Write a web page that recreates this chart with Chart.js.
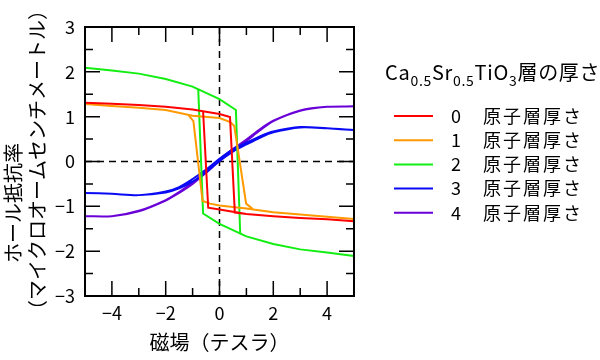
<!DOCTYPE html>
<html>
<head>
<meta charset="utf-8">
<script src="https://cdn.jsdelivr.net/npm/chart.js@4.4.1/dist/chart.umd.min.js"></script>
<style>
  html, body { margin: 0; padding: 0; background: #fff; }
  #wrap { width: 600px; height: 360px; }
</style>
</head>
<body>
<div id="wrap"><canvas id="hallChart" width="600" height="360"></canvas></div>
<script>
const layers = ['0', '1', '2', '3', '4'];
const layerColors = ['#ff0000', '#ff9900', '#12ee12', '#0a0af5', '#6a00d8'];

// field sweep -5 T -> +5 T -> -5 T, Hall resistivity in µΩcm
const field0 = [-5, -4, -3, -2, -1, 0, 0.39, 0.57, 1, 2, 3, 4, 5,
                5, 4, 3, 2, 1, 0, -0.42, -0.61, -1, -2, -3, -4, -5];
const rho0 = [1.31, 1.29, 1.26, 1.22, 1.16, 1.06, 0.99, -1.14, -1.17, -1.22, -1.26, -1.29, -1.33,
              -1.33, -1.29, -1.26, -1.22, -1.17, -1.07, -1.03, 1.12, 1.16, 1.22, 1.26, 1.29, 1.31];

const field1 = [-5, -4, -3, -2, -1, 0, 0.4, 0.55, 0.99, 1.26, 2, 3, 4, 5,
                5, 4, 3, 2, 1, 0, -0.35, -0.63, -0.97, -1.16, -2, -3, -4, -5];
const rho1 = [1.28, 1.24, 1.2, 1.15, 1.02, 0.97, 0.88, 0.79, -0.94, -1.07, -1.13, -1.18, -1.23, -1.28,
              -1.28, -1.23, -1.18, -1.13, -1.05, -0.98, -0.94, -0.88, 0.9, 1.04, 1.15, 1.2, 1.24, 1.28];

const field2 = [-5, -4, -3, -2, -1, 0, 0.61, 0.77, 1, 2, 3, 4, 5,
                5, 4, 3, 2, 1, 0, -0.61, -0.79, -1, -2, -3, -4, -5];
const rho2 = [2.09, 2.03, 1.96, 1.84, 1.67, 1.39, 1.15, -1.61, -1.67, -1.84, -1.96, -2.03, -2.11,
              -2.11, -2.03, -1.96, -1.84, -1.67, -1.39, -1.16, 1.61, 1.67, 1.84, 1.96, 2.03, 2.09];

const field3 = [-5, -4, -3, -2, -1.5, -1, -0.5, 0, 0.5, 1, 1.5, 2, 3, 4, 5,
                5, 4, 3, 2, 1.5, 1, 0.5, 0, -0.5, -1, -1.5, -2, -3, -4, -5];
const rho3 = [-0.7, -0.72, -0.75, -0.69, -0.6, -0.45, -0.24, 0.01, 0.22, 0.38, 0.53, 0.65, 0.76, 0.74, 0.7,
              0.7, 0.74, 0.77, 0.67, 0.56, 0.42, 0.27, 0.06, -0.18, -0.39, -0.57, -0.67, -0.75, -0.72, -0.7];

const field4 = [-5, -4, -3, -2, -1.5, -1, -0.5, 0, 0.5, 1, 1.5, 2, 3, 4, 5,
                5, 4, 3, 2, 1.5, 1, 0.5, 0, -0.5, -1, -1.5, -2, -3, -4, -5];
const rho4 = [-1.22, -1.22, -1.11, -0.87, -0.7, -0.5, -0.25, 0.01, 0.24, 0.46, 0.69, 0.9, 1.13, 1.22, 1.23,
              1.23, 1.22, 1.14, 0.91, 0.72, 0.49, 0.28, 0.05, -0.21, -0.47, -0.68, -0.86, -1.1, -1.22, -1.22];

const fields = [field0, field1, field2, field3, field4];
const rhos = [rho0, rho1, rho2, rho3, rho4];
const smooth = [0, 0, 0, 0.3, 0.3];

const xLabelTicks = [-4, -2, 0, 2, 4];
const xMinorTicks = [-3, -1, 1, 3];
const yLabelTicks = [-3, -2, -1, 0, 1, 2, 3];
const yMinorTicks = [-2.5, -1.5, -0.5, 0.5, 1.5, 2.5];

const jp = '"Noto Sans CJK JP", "Noto Sans", sans-serif';
const fmt = v => (v < 0 ? '\u2212' + Math.abs(v) : String(v));

const frameAndLegend = {
  id: 'frameAndLegend',
  beforeDatasetsDraw(chart) {
    const { ctx, chartArea: a, scales: { x, y } } = chart;
    const x0 = x.getPixelForValue(0);
    const y0 = y.getPixelForValue(0);
    ctx.save();
    ctx.strokeStyle = '#000';
    ctx.lineWidth = 1.5;
    ctx.setLineDash([7, 5]);
    ctx.beginPath();
    ctx.moveTo(x0, a.top);
    ctx.lineTo(x0, a.bottom);
    ctx.moveTo(a.left, y0);
    ctx.lineTo(a.right, y0);
    ctx.stroke();
    ctx.restore();
  },
  afterDraw(chart) {
    const { ctx, chartArea: a, scales: { x, y } } = chart;
    ctx.save();
    ctx.strokeStyle = '#000';
    ctx.lineWidth = 2;
    ctx.strokeRect(a.left, a.top, a.right - a.left, a.bottom - a.top);

    // inward ticks on all four sides
    ctx.lineWidth = 1.5;
    ctx.beginPath();
    const xt = (vals, len) => vals.forEach(v => {
      const px = x.getPixelForValue(v);
      ctx.moveTo(px, a.bottom); ctx.lineTo(px, a.bottom - len);
      ctx.moveTo(px, a.top); ctx.lineTo(px, a.top + len);
    });
    const yt = (vals, len) => vals.forEach(v => {
      const py = y.getPixelForValue(v);
      ctx.moveTo(a.left, py); ctx.lineTo(a.left + len, py);
      ctx.moveTo(a.right, py); ctx.lineTo(a.right - len, py);
    });
    xt(xLabelTicks, 15); xt(xMinorTicks, 8);
    yt(yLabelTicks, 15); yt(yMinorTicks, 8);
    ctx.stroke();

    // y axis title, two lines
    ctx.fillStyle = '#000';
    ctx.font = '20px ' + jp;
    ctx.textAlign = 'center';
    ctx.textBaseline = 'middle';
    ctx.save();
    ctx.translate(13, 203);
    ctx.rotate(-Math.PI / 2);
    ctx.fillText('ホール抵抗率', 0, 0);
    ctx.restore();
    ctx.save();
    ctx.translate(37, 160);
    ctx.rotate(-Math.PI / 2);
    ctx.fillText('（マイクロオームセンチメートル）', 0, 0);
    ctx.restore();

    // legend title with subscripts
    const parts = [['Ca', 0], ['0.5', 1], ['Sr', 0], ['0.5', 1], ['TiO', 0], ['3', 1], ['層の厚さ', 0]];
    let tx = 385;
    ctx.textAlign = 'left';
    ctx.textBaseline = 'alphabetic';
    ctx.letterSpacing = '0.7px';
    parts.forEach(([t, sub]) => {
      ctx.font = (sub ? '14px ' : '20px ') + jp;
      ctx.fillText(t, tx, sub ? 86 : 80);
      tx += ctx.measureText(t).width;
    });
    ctx.letterSpacing = '0px';

    // legend entries
    layers.forEach((name, i) => {
      const ly = 116 + i * 24.2;
      ctx.strokeStyle = layerColors[i];
      ctx.lineWidth = 2;
      ctx.beginPath();
      ctx.moveTo(394, ly);
      ctx.lineTo(433, ly);
      ctx.stroke();
      ctx.font = '18px ' + jp;
      ctx.textBaseline = 'middle';
      ctx.textAlign = 'center';
      ctx.fillText(name, 456, ly);
      ctx.textAlign = 'left';
      ctx.letterSpacing = '2px';
      ctx.fillText('原子層厚さ', 483, ly);
      ctx.letterSpacing = '0px';
    });
    ctx.restore();
  }
};

new Chart(document.getElementById('hallChart'), {
  type: 'scatter',
  data: {
    datasets: fields.map((f, i) => ({
      label: layers[i],
      data: f.map((v, j) => ({ x: v, y: rhos[i][j] })),
      showLine: true,
      borderColor: layerColors[i],
      borderWidth: 2,
      pointRadius: 0,
      tension: smooth[i],
      fill: false,
    })),
  },
  options: {
    responsive: false,
    animation: false,
    devicePixelRatio: 1,
    layout: { padding: { top: 27, right: 246, left: 0, bottom: 0 } },
    plugins: { legend: { display: false }, tooltip: { enabled: false } },
    scales: {
      x: {
        type: 'linear',
        min: -5,
        max: 5,
        afterBuildTicks: s => { s.ticks = xLabelTicks.map(v => ({ value: v })); },
        afterFit: s => { s.height = 64; },
        grid: { display: false, drawTicks: false },
        border: { display: false },
        ticks: { padding: 6, color: '#000', font: { family: jp, size: 18 }, callback: fmt, maxRotation: 0 },
        title: { display: true, text: '磁場（テスラ）', color: '#000', font: { family: jp, size: 20 }, padding: { top: 0, bottom: 6 } },
      },
      y: {
        type: 'linear',
        min: -3,
        max: 3,
        afterBuildTicks: s => { s.ticks = yLabelTicks.map(v => ({ value: v })); },
        afterFit: s => { s.width = 85; },
        grid: { display: false, drawTicks: false },
        border: { display: false },
        ticks: { padding: 10, color: '#000', font: { family: jp, size: 18 }, callback: fmt },
      },
    },
  },
  plugins: [frameAndLegend],
});
</script>
</body>
</html>
